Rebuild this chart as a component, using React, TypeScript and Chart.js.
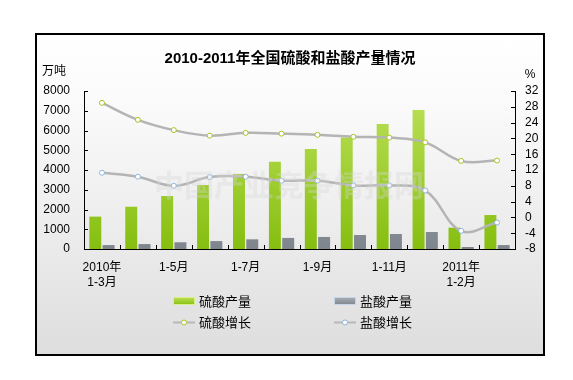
import React, { useEffect, useRef } from "react";
import { Chart, registerables } from "chart.js";

Chart.register(...registerables);

const categories: (string | string[])[] = [
  ["2010年", "1-3月"], "1-4月", "1-5月", "1-6月", "1-7月", "1-8月",
  "1-9月", "1-10月", "1-11月", "1-12月", ["2011年", "1-2月"], "1-3月",
];
const sulfuricOutput = [1640, 2140, 2680, 3240, 3800, 4420, 5060, 5650, 6330, 7040, 1080, 1720];
const hclOutput = [200, 250, 340, 400, 490, 560, 610, 710, 760, 860, 100, 200];
const sulfuricGrowth = [29.0, 24.7, 22.1, 20.7, 21.4, 21.2, 20.9, 20.4, 20.2, 19.0, 14.3, 14.4];
const hclGrowth = [11.3, 10.3, 8.0, 10.2, 10.3, 9.3, 9.3, 8.1, 8.1, 6.8, -3.4, -1.3];
const seriesNames = ["硫酸产量", "盐酸产量", "硫酸增长", "盐酸增长"];
const titleText = "2010-2011年全国硫酸和盐酸产量情况";
const leftUnit = "万吨";
const rightUnit = "%";
const watermark = "中国产业竞争情报网";

const FONT = "'Liberation Sans', Arial, 'Noto Sans CJK SC', sans-serif";

function vGrad(ctx: any, top: string, bottom: string, fallback: string) {
  const chart = ctx.chart;
  const area = chart.chartArea;
  if (!area) return fallback;
  const g = chart.ctx.createLinearGradient(0, area.top, 0, area.bottom);
  g.addColorStop(0, top);
  g.addColorStop(1, bottom);
  return g;
}

const decorPlugin = {
  id: "decor",
  afterDatasetsDraw(chart: any) {
    const c = chart.ctx;
    c.save();
    c.font = "bold 30px 'Noto Sans CJK SC', sans-serif";
    c.fillStyle = "rgba(215,215,215,0.35)";
    c.textAlign = "center";
    c.textBaseline = "middle";
    c.fillText(watermark, 252, 150);
    c.restore();
  },
  afterDraw(chart: any) {
    const c = chart.ctx;
    const area = chart.chartArea;
    const y = chart.scales.y;
    const y1 = chart.scales.y1;
    c.save();
    c.strokeStyle = "#000";
    c.lineWidth = 1;
    c.beginPath();
    y.ticks.forEach((t: any) => {
      const py = Math.round(y.getPixelForValue(t.value)) + 0.5;
      c.moveTo(area.left, py);
      c.lineTo(area.left + 4, py);
    });
    y1.ticks.forEach((t: any) => {
      const py = Math.round(y1.getPixelForValue(t.value)) + 0.5;
      c.moveTo(area.right - 4, py);
      c.lineTo(area.right, py);
    });
    const n = categories.length;
    const w = (area.right - area.left) / n;
    for (let i = 1; i < n; i++) {
      const px = Math.round(area.left + i * w) + 0.5;
      c.moveTo(px, area.bottom);
      c.lineTo(px, area.bottom - 4);
    }
    c.stroke();

    // title
    c.fillStyle = "#000";
    c.font = "bold 15px " + FONT;
    c.textAlign = "center";
    c.textBaseline = "middle";
    c.fillText(titleText, 253, 24);

    // units
    c.font = "12px " + FONT;
    c.fillText(leftUnit, 17, 37);
    c.fillText(rightUnit, 493, 40);

    // legend
    const pos = [
      [136, 266],
      [297, 266],
      [136, 287],
      [297, 287],
    ];
    chart.data.datasets.forEach((ds: any, i: number) => {
      const [lx, ly] = pos[i];
      if (ds.type === "line") {
        c.strokeStyle = "#b8b8b8";
        c.lineWidth = 2;
        c.beginPath();
        c.moveTo(lx, ly + 0.5);
        c.lineTo(lx + 22, ly + 0.5);
        c.stroke();
        c.beginPath();
        c.arc(lx + 11, ly + 0.5, 2.5, 0, Math.PI * 2);
        c.fillStyle = "#fff";
        c.fill();
        c.lineWidth = 1;
        c.strokeStyle = ds.pointBorderColor;
        c.stroke();
      } else {
        const g = c.createLinearGradient(0, ly - 3, 0, ly + 3);
        g.addColorStop(0, i === 0 ? "#b8dc50" : "#a4aab2");
        g.addColorStop(1, i === 0 ? "#8cc414" : "#848a92");
        c.fillStyle = g;
        c.fillRect(lx, ly - 3, 22, 6);
        c.strokeStyle = i === 0 ? "#d8f08a" : "#c6d6ea";
        c.lineWidth = 1;
        c.strokeRect(lx + 0.5, ly - 3.5, 21, 7);
      }
      c.fillStyle = "#000";
      c.font = "13px " + FONT;
      c.textAlign = "left";
      c.textBaseline = "middle";
      c.fillText(ds.label, lx + 26, ly + 1);
    });
    c.restore();
  },
};

export default function App() {
  const ref = useRef<HTMLCanvasElement | null>(null);
  useEffect(() => {
    if (!ref.current) return;
    const chart = new Chart(ref.current, {
      type: "bar",
      data: {
        labels: categories as any,
        datasets: [
          {
            type: "bar",
            label: seriesNames[0],
            data: sulfuricOutput,
            yAxisID: "y",
            order: 2,
            backgroundColor: (ctx: any) => vGrad(ctx, "#bde25a", "#86be10", "#a0d030"),
            categoryPercentage: 0.74,
            barPercentage: 0.9,
          },
          {
            type: "bar",
            label: seriesNames[1],
            data: hclOutput,
            yAxisID: "y",
            order: 2,
            backgroundColor: (ctx: any) => vGrad(ctx, "#b0b5bc", "#7f858c", "#90969d"),
            categoryPercentage: 0.74,
            barPercentage: 0.9,
          },
          {
            type: "line",
            label: seriesNames[2],
            data: sulfuricGrowth,
            yAxisID: "y1",
            order: 0,
            borderColor: "#b4b4b4",
            borderWidth: 2.5,
            tension: 0.4,
            pointRadius: 2.5,
            pointBackgroundColor: "#fff",
            pointBorderColor: "#a8c41c",
            pointBorderWidth: 1,
          } as any,
          {
            type: "line",
            label: seriesNames[3],
            data: hclGrowth,
            yAxisID: "y1",
            order: 0,
            borderColor: "#b4b4b4",
            borderWidth: 2.5,
            tension: 0.4,
            pointRadius: 2.5,
            pointBackgroundColor: "#fff",
            pointBorderColor: "#8fb4e0",
            pointBorderWidth: 1,
          } as any,
        ],
      },
      options: {
        animation: false,
        responsive: false,
        maintainAspectRatio: false,
        layout: { padding: { top: 56, bottom: 60, left: 0, right: 0 } },
        plugins: {
          legend: { display: false },
          title: { display: false },
          tooltip: { enabled: false },
        },
        scales: {
          x: {
            grid: { display: false, drawTicks: false },
            border: { display: true, color: "#000", width: 1 },
            ticks: {
              autoSkip: false,
              maxRotation: 0,
              minRotation: 0,
              padding: 11,
              color: "#000",
              font: { family: FONT, size: 12, lineHeight: 1.25 },
              callback: function (this: any, _v: any, i: number) {
                return i % 2 === 0 ? (categories[i] as any) : "";
              },
            },
            afterFit: (s: any) => {
              s.height = 45;
            },
          },
          y: {
            position: "left",
            min: 0,
            max: 8000,
            grid: { display: false, drawTicks: false },
            border: { display: true, color: "#000", width: 1 },
            ticks: {
              stepSize: 1000,
              autoSkip: false,
              padding: 14,
              color: "#000",
              font: { family: FONT, size: 12 },
              callback: (v: any) => String(v),
            },
            afterFit: (s: any) => {
              s.width = 47;
            },
          },
          y1: {
            position: "right",
            min: -8,
            max: 32,
            grid: { display: false, drawTicks: false },
            border: { display: true, color: "#000", width: 1 },
            ticks: {
              stepSize: 4,
              autoSkip: false,
              padding: 10,
              color: "#000",
              font: { family: FONT, size: 12 },
              callback: (v: any) => String(v),
            },
            afterFit: (s: any) => {
              s.width = 28;
            },
          },
        },
      },
      plugins: [decorPlugin],
    });
    return () => chart.destroy();
  }, []);

  return (
    <div
      style={{
        position: "absolute",
        left: 35,
        top: 33,
        width: 510,
        height: 323,
        boxSizing: "border-box",
        border: "2px solid #000",
        background: "linear-gradient(#ffffff 0%, #fbfbfb 20%, #dedede 100%)",
      }}
    >
      <canvas ref={ref} width={506} height={319} style={{ display: "block" }} />
    </div>
  );
}
